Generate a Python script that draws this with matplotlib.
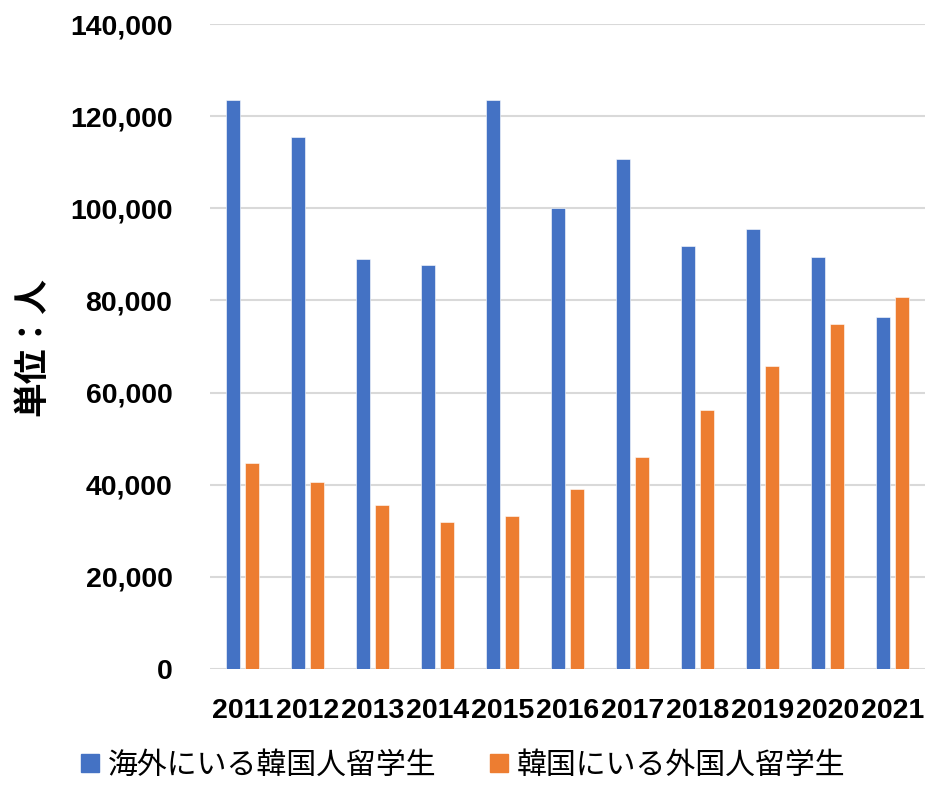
import numpy as np
import matplotlib
matplotlib.use("Agg")
import matplotlib.pyplot as plt
from matplotlib.lines import Line2D
from matplotlib.ticker import FuncFormatter

plt.rcParams['font.family'] = ['Liberation Sans', 'Noto Sans CJK JP', 'DejaVu Sans']

years = ['2011', '2012', '2013', '2014', '2015', '2016',
         '2017', '2018', '2019', '2020', '2021']
abroad_korean = [123500, 115400, 89000, 87700, 123600, 100100,
                 110700, 91800, 95600, 89500, 76400]
foreign_in_korea = [44700, 40600, 35500, 32000, 33100, 39100,
                    46000, 56200, 65800, 74900, 80700]
series_names = ['海外にいる韓国人留学生', '韓国にいる外国人留学生']
colors = ['#4472C4', '#ED7D31']

fig = plt.figure(figsize=(9.27, 7.85), dpi=100)
ax = fig.add_axes([0.2265, 0.1478, 0.7715, 0.8216])

x = np.arange(len(years))
w = 0.215
ax.bar(x - 0.146, abroad_korean, w, color=colors[0], edgecolor='white', linewidth=0.4, zorder=3)
ax.bar(x + 0.146, foreign_in_korea, w, color=colors[1], edgecolor='white', linewidth=0.4, zorder=3)

ax.set_xlim(-0.5, len(years) - 0.5)
ax.set_ylim(0, 140000)
ax.set_yticks(np.arange(0, 140001, 20000))
ax.yaxis.set_major_formatter(FuncFormatter(lambda v, p: f'{int(v):,}'))
ax.set_xticks(x)
ax.set_xticklabels(years)

# light horizontal gridlines only, no frame
ax.grid(axis='y', color='#D9D9D9', linewidth=1.5, zorder=0)
for s in ax.spines.values():
    s.set_visible(False)
ax.tick_params(axis='both', length=0, labelsize=20.5)
ax.tick_params(axis='y', pad=27)
ax.tick_params(axis='x', pad=21)
for lab in ax.get_xticklabels() + ax.get_yticklabels():
    lab.set_fontweight('bold')

fig.text(0.034, 0.559, '単位：人', rotation=90, ha='center', va='center',
         fontsize=25, fontweight='bold', family=['Noto Sans CJK JP', 'DejaVu Sans'])

handles = [Line2D([], [], marker='s', linestyle='none', markersize=13,
                  markerfacecolor=c, markeredgecolor=c) for c in colors]
fig.legend(handles, series_names, loc='center', bbox_to_anchor=(0.5, 0.025),
           ncol=2, frameon=False, handlelength=0.6, handletextpad=0.3,
           columnspacing=1.8, borderaxespad=0,
           prop={'family': ['Noto Sans CJK JP', 'DejaVu Sans'], 'size': 21.5})

fig.savefig('out.png', dpi=100)
